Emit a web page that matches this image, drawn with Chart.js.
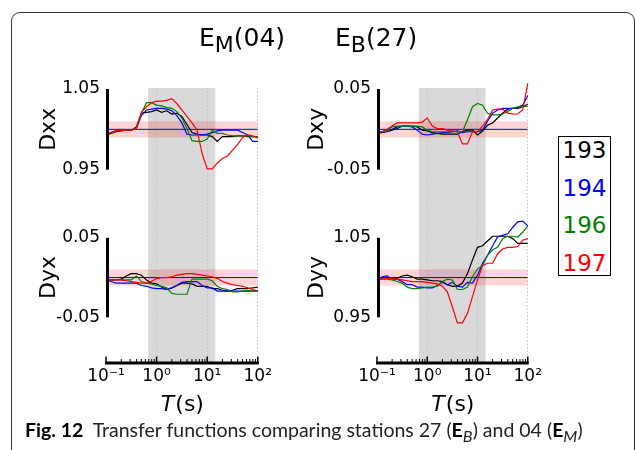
<!DOCTYPE html>
<html lang="en">
<head>
<meta charset="UTF-8" />
<title>Transfer functions</title>
<script src="https://cdn.jsdelivr.net/npm/chart.js"></script>
<style>
  html, body { margin: 0; padding: 0; background: #fff; }
  body { width: 636px; height: 450px; position: relative; overflow: hidden; font-family: "DejaVu Sans", sans-serif; }
  .frame { position: absolute; left: 11px; top: 12px; width: 624px; height: 470px; border: 1.3px solid #333; border-radius: 9px; box-sizing: border-box; }
  canvas { position: absolute; top: 0; }
  .head { position: absolute; top: 25px; font-size: 25px; line-height: 25px; white-space: nowrap; }
  .head .sub { font-size: 22px; position: relative; top: 6px; }
  .legend-box { position: absolute; left: 558px; top: 136px; width: 53px; height: 140px; border: 1.5px solid #000; box-sizing: border-box; }
  .legend-text { position: absolute; left: 558px; top: 132px; width: 53px; text-align: center; font-size: 23px; line-height: 37.5px; }
  .caption { position: absolute; left: 25px; top: 418px; font-family: Lato, sans-serif; font-size: 19.5px; line-height: 24px; white-space: nowrap; color: #222; }
  .caption b { font-weight: 700; color: #000; }
</style>
</head>
<body>
  <div class="frame"></div>
  <canvas id="colLeft" width="275" height="450" style="left:0px"></canvas>
  <canvas id="colRight" width="255" height="450" style="left:290px"></canvas>

  <div class="head" style="left:199px">E<span class="sub">M</span>(04)</div>
  <div class="head" style="left:335px">E<span class="sub">B</span>(27)</div>

  <div class="legend-box"></div>
  <div class="legend-text" id="legend"></div>

  <div class="caption"><b>Fig. 12</b>&nbsp; Transfer functions comparing stations 27 (<b>E</b><sub><i>B</i></sub>) and 04 (<b>E</b><sub><i>M</i></sub>)</div>

<script>
    // periodos (s)
    const periods = [0.1, 0.126, 0.158, 0.2, 0.251, 0.316, 0.398, 0.501, 0.631, 0.794,
                     1, 1.26, 1.58, 2, 2.51, 3.16, 3.98, 5.01, 6.31, 7.94,
                     10, 12.6, 15.8, 20, 25.1, 31.6, 39.8, 50.1, 63.1, 79.4, 100];

    const stations = ['193', '194', '196', '197'];
    const stationColors = ['#000000', '#0000ff', '#008000', '#ff0000'];

    const xMajor = [0.1, 1, 10, 100];
    const xTickLabels = ['10⁻¹', '10⁰', '10¹', '10²'];
    const xMinor = [0.2, 0.3, 0.4, 0.5, 0.6, 0.7, 0.8, 0.9,
                    2, 3, 4, 5, 6, 7, 8, 9,
                    20, 30, 40, 50, 60, 70, 80, 90];

    const diagTicks = [0.95, 1.05];
    const offTicks = [-0.05, 0.05];
    const shadeBand = [0.68, 14.5];   // zona cinza (s)
    const bandHalf = 0.01;            // faixa rosa +/-

    // Dxx (E_M 04)
    const dxx193 = [0.993, 0.995, 0.997, 0.998, 0.999, 0.999, 1.003, 1.020, 1.021, 1.022, 1.024, 1.021, 1.023, 1.019, 1.020, 1.016, 1.006, 0.996, 0.994, 0.993, 0.993, 0.991, 0.985, 0.991, 0.991, 0.991, 0.992, 0.992, 0.991, 0.991, 0.991];
    const dxx194 = [0.993, 0.996, 0.998, 0.999, 0.999, 0.999, 1.001, 1.017, 1.024, 1.025, 1.026, 1.026, 1.025, 1.023, 1.017, 1.008, 0.994, 0.993, 0.993, 0.993, 0.994, 0.996, 0.998, 0.999, 0.999, 0.999, 0.999, 0.996, 0.993, 0.985, 0.985];
    const dxx196 = [0.993, 0.996, 0.998, 0.999, 0.999, 0.999, 1.002, 1.020, 1.033, 1.033, 1.030, 1.029, 1.027, 1.026, 1.022, 1.014, 1.001, 0.986, 0.985, 0.985, 0.988, 0.999, 0.995, 0.995, 0.993, 0.992, 0.992, 0.992, 0.992, 0.991, 0.991];
    const dxx197 = [0.993, 0.996, 0.998, 0.999, 0.999, 0.999, 1.001, 1.021, 1.028, 1.033, 1.035, 1.035, 1.036, 1.038, 1.032, 1.024, 1.016, 1.008, 0.999, 0.970, 0.951, 0.951, 0.958, 0.964, 0.967, 0.974, 0.981, 0.990, 0.993, 0.992, 0.989];

    // Dxy
    const dxy193 = [-0.004, -0.004, -0.003, -0.001, 0.001, 0.004, 0.004, 0.004, 0.003, -0.001, -0.002, -0.004, -0.005, -0.006, -0.006, -0.006, -0.006, -0.003, -0.001, -0.001, -0.007, -0.002, 0.005, 0.008, 0.014, 0.020, 0.025, 0.026, 0.026, 0.028, 0.031];
    const dxy194 = [-0.004, -0.003, -0.001, 0.000, 0.003, 0.004, 0.004, 0.003, -0.001, -0.006, -0.007, -0.006, -0.005, -0.004, -0.004, -0.003, -0.002, -0.004, -0.003, -0.003, -0.003, -0.001, 0.010, 0.020, 0.024, 0.026, 0.026, 0.026, 0.027, 0.030, 0.042];
    const dxy196 = [-0.004, -0.003, -0.001, 0.003, 0.004, 0.004, 0.004, 0.004, 0.004, 0.003, -0.001, -0.003, -0.003, -0.003, -0.003, -0.003, -0.003, -0.003, 0.012, 0.028, 0.032, 0.030, 0.020, 0.018, 0.018, 0.019, 0.022, 0.026, 0.028, 0.029, 0.028];
    const dxy197 = [-0.004, -0.003, 0.000, 0.004, 0.008, 0.008, 0.008, 0.008, 0.008, 0.009, 0.014, 0.004, 0.001, 0.001, -0.001, -0.002, -0.003, -0.018, -0.018, -0.003, -0.003, 0.004, 0.012, 0.024, 0.025, 0.025, 0.020, 0.019, 0.019, 0.024, 0.057];

    // Dyx
    const dyx193 = [-0.003, -0.003, -0.003, -0.002, 0.002, 0.005, 0.005, 0.003, -0.003, -0.007, -0.008, -0.012, -0.015, -0.013, -0.010, -0.007, -0.007, -0.008, -0.011, -0.011, -0.011, -0.014, -0.014, -0.016, -0.017, -0.016, -0.014, -0.014, -0.014, -0.013, -0.012];
    const dyx194 = [-0.003, -0.005, -0.007, -0.007, -0.007, -0.007, -0.007, -0.010, -0.011, -0.013, -0.014, -0.014, -0.015, -0.013, -0.010, -0.006, -0.005, -0.005, -0.005, -0.010, -0.013, -0.013, -0.017, -0.017, -0.017, -0.017, -0.017, -0.017, -0.017, -0.017, -0.017];
    const dyx196 = [-0.003, -0.003, -0.003, -0.003, -0.003, -0.003, 0.002, -0.005, -0.007, -0.008, -0.010, -0.011, -0.013, -0.020, -0.021, -0.021, -0.021, -0.002, -0.002, -0.002, -0.002, -0.004, -0.011, -0.014, -0.015, -0.018, -0.018, -0.017, -0.016, -0.017, -0.017];
    const dyx197 = [-0.003, -0.003, -0.003, -0.003, -0.004, -0.005, -0.006, -0.007, -0.007, -0.005, -0.001, 0.000, 0.000, 0.001, 0.003, 0.004, 0.005, 0.005, 0.004, 0.003, 0.002, 0.001, -0.001, -0.005, -0.007, -0.009, -0.010, -0.011, -0.013, -0.015, -0.017];

    // Dyy (E_B 27)
    const dyy193 = [0.997, 0.999, 0.999, 0.999, 0.999, 1.002, 1.003, 1.001, 0.998, 0.998, 0.997, 0.996, 0.996, 0.995, 0.991, 0.989, 0.989, 0.993, 1.005, 1.022, 1.038, 1.040, 1.046, 1.052, 1.052, 1.052, 1.052, 1.049, 1.043, 1.043, 1.043];
    const dyy194 = [0.997, 1.001, 1.002, 0.998, 0.998, 0.995, 0.991, 0.991, 0.988, 0.988, 0.987, 0.987, 0.990, 0.994, 0.991, 0.994, 0.989, 0.988, 0.994, 0.993, 1.003, 1.018, 1.028, 1.040, 1.051, 1.053, 1.055, 1.063, 1.070, 1.071, 1.065];
    const dyy196 = [0.997, 0.998, 0.998, 0.997, 0.995, 0.993, 0.988, 0.986, 0.986, 0.987, 0.988, 0.988, 0.989, 0.995, 0.998, 0.997, 0.985, 0.985, 0.988, 1.001, 1.011, 1.015, 1.028, 1.035, 1.038, 1.049, 1.052, 1.052, 1.051, 1.057, 1.065];
    const dyy197 = [0.997, 0.999, 0.999, 0.999, 0.998, 0.997, 0.996, 0.995, 0.995, 0.995, 0.994, 0.993, 0.992, 0.989, 0.982, 0.963, 0.943, 0.943, 0.955, 0.976, 0.997, 1.015, 1.018, 1.018, 1.030, 1.036, 1.038, 1.038, 1.039, 1.047, 1.049];

    const xTicks = xMajor.concat(xMinor).sort((a, b) => a - b);
    const isMajor = v => xMajor.some(m => Math.abs(m - v) < 1e-9);

    // legenda (texto colorido)
    document.getElementById('legend').innerHTML = stations
        .map((s, k) => '<div style="color:' + stationColors[k] + '">' + s + '</div>').join('');

    // desenha faixa cinza, eixos grossos e titulos
    const panelDecor = {
        id: 'panelDecor',
        beforeDraw(chart, args, opts) {
            const {ctx, chartArea: a, scales: {x}} = chart;
            const x0 = x.getPixelForValue(shadeBand[0]);
            const x1 = x.getPixelForValue(shadeBand[1]);
            ctx.save();
            ctx.fillStyle = '#d9d9d9';
            ctx.fillRect(x0, a.top, x1 - x0, a.bottom - a.top);
            ctx.restore();
        },
        afterDraw(chart, args, opts) {
            const {ctx, chartArea: a, scales} = chart;
            ctx.save();
            ctx.strokeStyle = '#000';
            ctx.fillStyle = '#000';

            // eixo x
            ctx.lineWidth = 3;
            ctx.beginPath();
            ctx.moveTo(a.left - 1, a.bottom);
            ctx.lineTo(a.right + 1, a.bottom);
            ctx.stroke();
            xTicks.forEach(v => {
                const px = scales.x.getPixelForValue(v);
                const major = isMajor(v);
                ctx.lineWidth = major ? 1.5 : 1;
                ctx.beginPath();
                ctx.moveTo(px, a.bottom);
                ctx.lineTo(px, a.bottom - (major ? 6.5 : 4));
                ctx.stroke();
            });

            // espinhas y e titulos
            ['yTop', 'yBot'].forEach(id => {
                const s = scales[id];
                const p0 = s.getPixelForValue(s.ticks[0].value);
                const p1 = s.getPixelForValue(s.ticks[s.ticks.length - 1].value);
                ctx.lineWidth = 3;
                ctx.beginPath();
                ctx.moveTo(a.left + 1.5, p0);
                ctx.lineTo(a.left + 1.5, p1);
                ctx.stroke();

                ctx.save();
                ctx.translate(a.left - opts.titleOffset, (p0 + p1) / 2);
                ctx.rotate(-Math.PI / 2);
                ctx.font = '22px "DejaVu Sans"';
                ctx.textAlign = 'center';
                ctx.textBaseline = 'alphabetic';
                ctx.fillText(opts.titles[id], 0, 0);
                ctx.restore();
            });

            // titulo x: T(s)
            ctx.textBaseline = 'alphabetic';
            ctx.textAlign = 'left';
            ctx.font = 'oblique 22px "DejaVu Sans"';
            const wT = ctx.measureText('T').width;
            ctx.font = '22px "DejaVu Sans"';
            const wS = ctx.measureText('(s)').width;
            const cx = (a.left + a.right) / 2 - (wT + wS) / 2;
            ctx.font = 'oblique 22px "DejaVu Sans"';
            ctx.fillText('T', cx, 411);
            ctx.font = '22px "DejaVu Sans"';
            ctx.fillText('(s)', cx + wT + 1, 411);
            ctx.restore();
        }
    };

    function flat(v) {
        return [{x: 0.1, y: v}, {x: 100, y: v}];
    }

    function panelDatasets(axis, p) {
        const list = [];
        list.push({data: flat(p.ref + bandHalf), yAxisID: axis, borderWidth: 1, borderColor: 'rgba(0,0,0,0)',
                   pointRadius: 0, fill: '+1', backgroundColor: 'rgba(255, 0, 0, 0.17)', order: 20});
        list.push({data: flat(p.ref - bandHalf), yAxisID: axis, borderWidth: 1, borderColor: 'rgba(0,0,0,0)',
                   pointRadius: 0, fill: false, order: 21});
        list.push({data: flat(p.ref), yAxisID: axis, borderColor: '#0000ff', borderWidth: 1,
                   pointRadius: 0, fill: false, order: 15});
        p.series.forEach((s, k) => {
            list.push({
                label: stations[k],
                data: periods.map((t, i) => ({x: t, y: s[i]})),
                yAxisID: axis,
                borderColor: stationColors[k],
                borderWidth: 1.2,
                pointRadius: 0,
                fill: false,
                tension: 0,
                clip: false,
                order: 4 - k
            });
        });
        return list;
    }

    function yScale(p, weight, stackWeight, width) {
        return {
            type: 'linear',
            position: 'left',
            stack: 'col',
            stackWeight: stackWeight,
            weight: weight,
            min: p.min,
            max: p.max,
            afterBuildTicks: s => { s.ticks = p.ticks.map(v => ({value: v})); },
            afterFit: s => { s.width = width; },
            grid: {display: false, drawTicks: false},
            border: {display: false},
            ticks: {
                padding: 6,
                color: '#000',
                font: {family: 'DejaVu Sans', size: 17},
                callback: v => v.toFixed(2)
            }
        };
    }

    function makeColumn(canvasId, top, bot, yWidth, titleOffset) {
        const ctx = document.getElementById(canvasId).getContext('2d');
        return new Chart(ctx, {
            type: 'line',
            data: {
                datasets: panelDatasets('yTop', top).concat(panelDatasets('yBot', bot))
            },
            options: {
                responsive: false,
                animation: false,
                events: [],
                layout: {padding: {top: 88, right: 15, bottom: 0, left: 0}},
                plugins: {
                    legend: {display: false},
                    tooltip: {enabled: false},
                    panelDecor: {titles: {yTop: top.title, yBot: bot.title}, titleOffset: titleOffset}
                },
                scales: {
                    x: {
                        type: 'logarithmic',
                        min: 0.1,
                        max: 100,
                        afterBuildTicks: s => { s.ticks = xTicks.map(v => ({value: v, major: isMajor(v)})); },
                        afterFit: s => { s.height = 87; },
                        grid: {
                            drawTicks: false,
                            lineWidth: 1,
                            color: c => (c.tick && isMajor(c.tick.value) && c.tick.value > 0.5) ? '#c4c4c4' : 'rgba(0,0,0,0)'
                        },
                        border: {display: false, dash: [1.5, 2]},
                        ticks: {
                            autoSkip: false,
                            maxRotation: 0,
                            padding: 3,
                            color: '#000',
                            font: {family: 'DejaVu Sans', size: 17},
                            callback: v => {
                                const i = xMajor.findIndex(m => Math.abs(m - v) < 1e-9);
                                return i >= 0 ? xTickLabels[i] : '';
                            }
                        }
                    },
                    yTop: yScale(top, 2, 122, yWidth),
                    yBot: yScale(bot, 1, 153, yWidth)
                }
            },
            plugins: [panelDecor]
        });
    }

    makeColumn('colLeft',
        {title: 'Dxx', ticks: diagTicks, min: 0.90, max: 1.05125, ref: 1, series: [dxx193, dxx194, dxx196, dxx197]},
        {title: 'Dyx', ticks: offTicks, min: -0.1075, max: 0.085, ref: 0, series: [dyx193, dyx194, dyx196, dyx197]},
        106, 51);

    makeColumn('colRight',
        {title: 'Dxy', ticks: offTicks, min: -0.10, max: 0.05125, ref: 0, series: [dxy193, dxy194, dxy196, dxy197]},
        {title: 'Dyy', ticks: diagTicks, min: 0.8925, max: 1.085, ref: 1, series: [dyy193, dyy194, dyy196, dyy197]},
        87, 54);
</script>
</body>
</html>
